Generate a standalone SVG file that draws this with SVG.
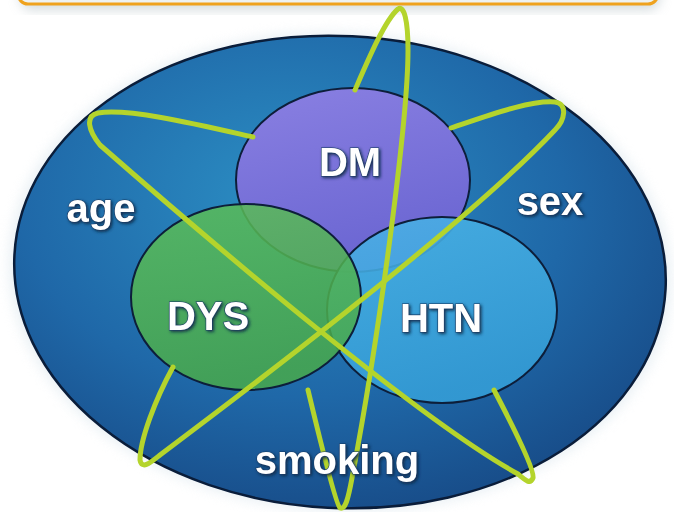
<svg xmlns="http://www.w3.org/2000/svg" width="674" height="512" viewBox="0 0 674 512">
<defs>
<radialGradient id="gBig" cx="0.42" cy="0.35" r="0.7">
<stop offset="0" stop-color="#2c8fc4"/>
<stop offset="0.6" stop-color="#1f68a8"/>
<stop offset="1" stop-color="#174a86"/>
</radialGradient>
<linearGradient id="gDM" x1="0" y1="0" x2="0.3" y2="1">
<stop offset="0" stop-color="#8a80e2"/>
<stop offset="1" stop-color="#6b66d2"/>
</linearGradient>
<linearGradient id="gDYS" x1="0" y1="0" x2="0.3" y2="1">
<stop offset="0" stop-color="#5cbe58"/>
<stop offset="1" stop-color="#48a94a"/>
</linearGradient>
<linearGradient id="gHTN" x1="0" y1="0" x2="0.3" y2="1">
<stop offset="0" stop-color="#4ab2e6"/>
<stop offset="1" stop-color="#359fd8"/>
</linearGradient>
<filter id="halo" x="-10%" y="-10%" width="120%" height="120%">
<feGaussianBlur stdDeviation="6"/>
</filter>
<filter id="txt" x="-20%" y="-30%" width="140%" height="160%">
<feDropShadow dx="1.5" dy="1.5" stdDeviation="1.5" flood-color="#0b2747" flood-opacity="0.9"/>
</filter>
<style>
.lbl{font-family:"Liberation Sans",Arial,sans-serif;font-weight:bold;font-size:40px;fill:#ffffff;text-anchor:middle;stroke:#1c3d66;stroke-width:1.2;paint-order:stroke;filter:url(#txt)}
.set{stroke:#0d1e3a;stroke-width:2}
.orbit{fill:none;stroke:#b4d42c;stroke-width:5;stroke-linecap:round;stroke-linejoin:round}
</style>
</defs>
<rect width="674" height="512" fill="#ffffff"/>
<g id="title-bar">
<rect x="20" y="-36" width="640" height="46" rx="12" fill="#b8c4c8" opacity="0.6" filter="url(#halo)"/>
<rect x="18" y="-40" width="640" height="44" rx="10" fill="#eef2f2" stroke="#efa21e" stroke-width="3"/>
</g>
<g id="risk-field">
<ellipse cx="340" cy="272" rx="332" ry="240" fill="#e6eef3" opacity="0.8" filter="url(#halo)" transform="rotate(3 340 272)"/>
<ellipse cx="340" cy="272" rx="326" ry="236" fill="url(#gBig)" stroke="#0a1d3a" stroke-width="2.5" transform="rotate(3 340 272)"/>
</g>
<g id="DM">
<ellipse class="set" cx="353" cy="180" rx="117" ry="92" fill="url(#gDM)"/>
</g>
<g id="HTN">
<ellipse class="set" cx="442" cy="310" rx="115" ry="93" fill="url(#gHTN)" fill-opacity="0.88"/>
</g>
<g id="DYS">
<ellipse class="set" cx="246" cy="297" rx="115" ry="93" fill="url(#gDYS)" fill-opacity="0.85"/>
</g>
<g id="orbits">
<path class="orbit" d="M355 90 C368 60 385 20 398 9 C404 5 408 20 408 50 C408 120 380 330 352 478 C348 500 345 510 340 508 C336 505 320 440 308 390"/>
<path class="orbit" d="M253 137 C200 125 130 108 98 113 C85 116 88 130 100 145 C220 250 420 420 518 474 C525 480 530 485 533 478 C535 470 515 430 494 390"/>
<path class="orbit" d="M451 128 C490 115 530 100 555 102 C568 104 565 120 555 130 C480 210 300 350 160 455 C150 463 142 470 140 460 C140 440 155 400 173 367"/>
</g>
<g id="labels">
<text class="lbl" x="350" y="176">DM</text>
<text class="lbl" x="208" y="330">DYS</text>
<text class="lbl" x="441" y="332">HTN</text>
<text class="lbl" x="101" y="222">age</text>
<text class="lbl" x="550" y="215">sex</text>
<text class="lbl" x="337" y="474">smoking</text>
</g>
</svg>
